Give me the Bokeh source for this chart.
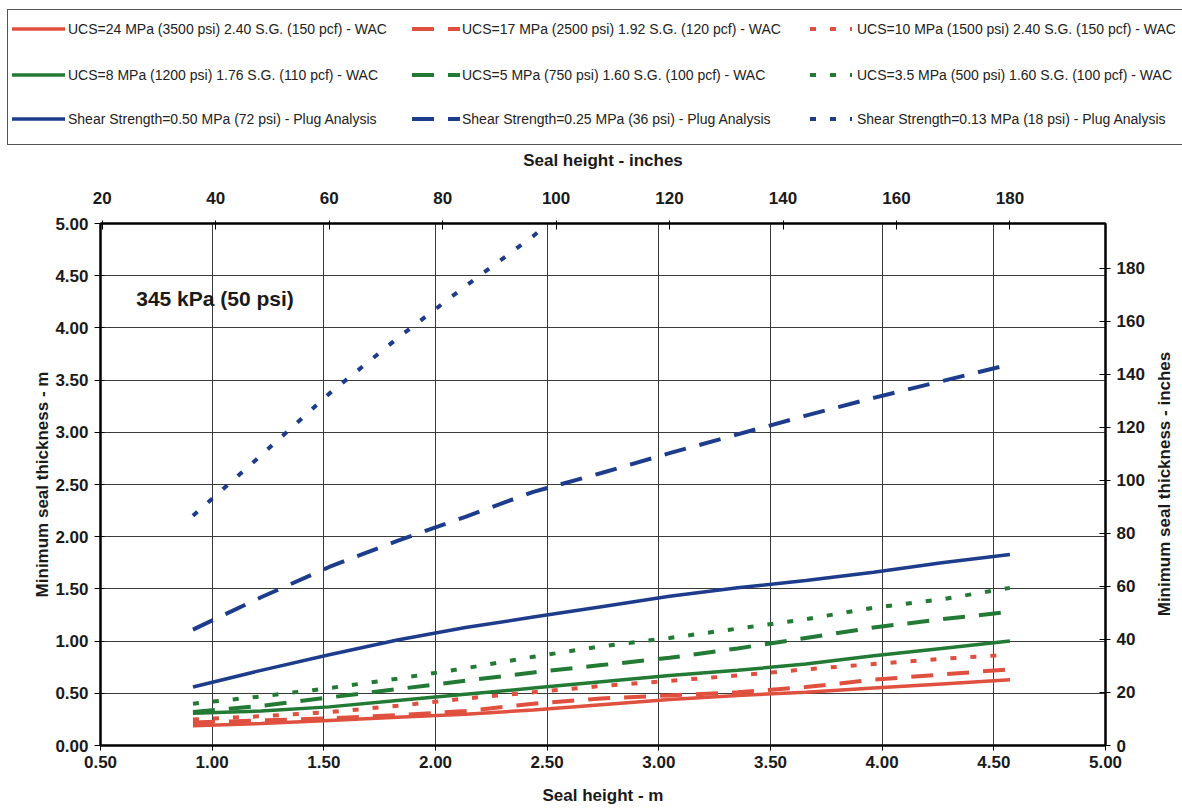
from bokeh.plotting import figure
from bokeh.layouts import column, row
from bokeh.models import (Range1d, LinearAxis, FixedTicker, Label, Div,
                          NumeralTickFormatter)
from bokeh.embed import file_html
from bokeh.resources import INLINE

# ---------------- data ----------------
seal_height_m = [0.914, 1.219, 1.524, 1.829, 2.134, 2.438, 2.743,
                 3.048, 3.353, 3.658, 3.962, 4.267, 4.572]

ucs24 = [0.19, 0.21, 0.24, 0.27, 0.30, 0.34, 0.39, 0.44, 0.48, 0.51, 0.55, 0.59, 0.63]
ucs17 = [0.22, 0.24, 0.26, 0.29, 0.33, 0.40, 0.45, 0.48, 0.51, 0.56, 0.63, 0.68, 0.73]
ucs10 = [0.25, 0.28, 0.32, 0.38, 0.45, 0.51, 0.57, 0.62, 0.67, 0.73, 0.78, 0.83, 0.87]
ucs8 = [0.31, 0.33, 0.37, 0.43, 0.49, 0.55, 0.61, 0.67, 0.72, 0.78, 0.86, 0.93, 1.00]
ucs5 = [0.32, 0.38, 0.46, 0.54, 0.62, 0.70, 0.77, 0.84, 0.93, 1.03, 1.13, 1.21, 1.28]
ucs35 = [0.40, 0.47, 0.55, 0.64, 0.74, 0.85, 0.95, 1.03, 1.12, 1.21, 1.32, 1.40, 1.51]
shear050 = [0.56, 0.72, 0.87, 1.01, 1.13, 1.23, 1.33, 1.43, 1.51, 1.58, 1.66, 1.75, 1.83]
shear025 = [1.11, 1.42, 1.71, 1.96, 2.19, 2.43, 2.61, 2.80, 2.98, 3.16, 3.33, 3.49, 3.65]
shear013_x = [0.914, 1.219, 1.524, 1.829, 2.134, 2.438, 2.50]
shear013 = [2.20, 2.78, 3.37, 3.90, 4.40, 4.88, 4.99]

labels = [
    "UCS=24 MPa (3500 psi) 2.40 S.G. (150 pcf) - WAC",
    "UCS=17 MPa (2500 psi) 1.92 S.G. (120 pcf) - WAC",
    "UCS=10 MPa (1500 psi) 2.40 S.G. (150 pcf) - WAC",
    "UCS=8 MPa (1200 psi) 1.76 S.G. (110 pcf) - WAC",
    "UCS=5 MPa (750 psi) 1.60 S.G. (100 pcf) - WAC",
    "UCS=3.5 MPa (500 psi) 1.60 S.G. (100 pcf) - WAC",
    "Shear Strength=0.50 MPa (72 psi) - Plug Analysis",
    "Shear Strength=0.25 MPa (36 psi) - Plug Analysis",
    "Shear Strength=0.13 MPa (18 psi) - Plug Analysis",
]

m_ticks = [0.5, 1.0, 1.5, 2.0, 2.5, 3.0, 3.5, 4.0, 4.5, 5.0]
y_ticks = [0.0, 0.5, 1.0, 1.5, 2.0, 2.5, 3.0, 3.5, 4.0, 4.5, 5.0]
in_ticks = [0, 20, 40, 60, 80, 100, 120, 140, 160, 180]
M_TO_IN = 39.37

# ---------------- styles ----------------
RED = "#e0503f"
GREEN = "#237a35"
BLUE = "#1e3c8c"
SOLID = "solid"
DASH = "22 14"
DOT = "6 14"
FONT = "Liberation Sans"

styles = [
    (RED, SOLID, 3.5), (RED, DASH, 4), (RED, DOT, 4),
    (GREEN, SOLID, 3.5), (GREEN, DASH, 4), (GREEN, DOT, 4),
    (BLUE, SOLID, 3.5), (BLUE, DASH, 4), (BLUE, DOT, 4),
]
data = [
    (seal_height_m, ucs24), (seal_height_m, ucs17), (seal_height_m, ucs10),
    (seal_height_m, ucs8), (seal_height_m, ucs5), (seal_height_m, ucs35),
    (seal_height_m, shear050), (seal_height_m, shear025), (shear013_x, shear013),
]

LEG_H = 147
RT_W = 30
MAIN_H = 808 - LEG_H
MB_TOP, MB_BOTTOM = 76, 63

# ---------------- main chart ----------------
p = figure(width=1182 - RT_W, height=MAIN_H, output_backend="svg", toolbar_location=None,
           x_range=Range1d(0.5, 5.0), y_range=Range1d(0.0, 5.0),
           min_border_left=100, min_border_right=77 - RT_W, min_border_top=MB_TOP,
           min_border_bottom=MB_BOTTOM)
p.background_fill_color = "white"
p.border_fill_color = "white"
p.outline_line_color = "black"
p.outline_line_width = 2

p.extra_x_ranges = {"in": Range1d(0.5 * M_TO_IN, 5.0 * M_TO_IN)}
p.extra_y_ranges = {"in": Range1d(0.0, 5.0 * M_TO_IN)}

for (xs, ys), (col, dash, w) in zip(data, styles):
    p.line(xs, ys, line_color=col, line_dash=dash, line_width=w)

p.xgrid.ticker = FixedTicker(ticks=m_ticks)
p.ygrid.ticker = FixedTicker(ticks=y_ticks)
for g in (p.xgrid, p.ygrid):
    g.grid_line_color = "#3a3a3a"
    g.grid_line_width = 1


def style_axis(ax, title, ticks, fmt, tin, tout, lst, tst):
    ax.axis_label = title
    ax.ticker = FixedTicker(ticks=ticks)
    if fmt:
        ax.formatter = NumeralTickFormatter(format=fmt)
    ax.axis_label_text_font = FONT
    ax.axis_label_text_font_style = "bold"
    ax.axis_label_text_font_size = "17px"
    ax.axis_label_text_color = "#1a1a1a"
    ax.major_label_text_font = FONT
    ax.major_label_text_font_style = "bold"
    ax.major_label_text_font_size = "17px"
    ax.major_label_text_color = "#1a1a1a"
    ax.axis_line_color = "black"
    ax.axis_line_width = 2
    ax.major_tick_line_color = "black"
    ax.major_tick_line_width = 1
    ax.major_tick_in = tin
    ax.major_tick_out = tout
    ax.minor_tick_line_color = None
    ax.major_label_standoff = lst
    ax.axis_label_standoff = tst


style_axis(p.xaxis[0], "Seal height - m", m_ticks, "0.00", 0, 5, 5, 15)
style_axis(p.yaxis[0], "Minimum seal thickness - m", y_ticks, "0.00", 4, 6, 6, 0)

top_ax = LinearAxis(x_range_name="in")
style_axis(top_ax, "Seal height - inches", in_ticks[1:], None, 6, 3, 17, 19)
p.add_layout(top_ax, "above")

right_ax = LinearAxis(y_range_name="in")
style_axis(right_ax, None, in_ticks, None, 6, 5, 6, 0)
p.add_layout(right_ax, "right")

p.add_layout(Label(x=0.66, y=4.28, text="345 kPa (50 psi)", text_font=FONT,
                   text_font_style="bold", text_font_size="21px",
                   text_color="#1a1a1a", text_baseline="middle"))

# ---------------- right axis title (reads bottom-to-top) ----------------
frame_mid = (MB_TOP + (MAIN_H - MB_BOTTOM)) / 2
right_title = Div(
    text=(f'<div style="position:relative;width:{RT_W}px;height:{MAIN_H}px;background:white;">'
          f'<div style="position:absolute;left:13px;top:{frame_mid}px;'
          f'transform:translate(-50%,-50%) rotate(-90deg);white-space:nowrap;'
          f'font-family:\'{FONT}\',Arial,sans-serif;font-weight:bold;font-size:17px;'
          f'color:#1a1a1a;">Minimum seal thickness - inches</div></div>'),
    width=RT_W, height=MAIN_H, margin=(0, 0, 0, 0))

# ---------------- legend strip (HTML) ----------------
col_glyph_x = [12, 412, 810]
col_glyph_w = [53, 48, 42]
col_text_x = [68, 462, 857]
row_y = [29, 75, 119]

parts = [
    f'<div style="position:relative;width:1182px;height:{LEG_H}px;overflow:hidden;'
    f'background:white;font-family:\'{FONT}\',Arial,sans-serif;font-size:14px;color:#222;">',
    '<div style="position:absolute;left:7px;top:9px;width:1190px;height:136px;'
    'border:1.5px solid #555;box-sizing:border-box;"></div>',
]
for i, (lab, (col, dash, w)) in enumerate(zip(labels, styles)):
    r, c = divmod(i, 3)
    gx, gw, tx, ry = col_glyph_x[c], col_glyph_w[c], col_text_x[c], row_y[r]
    da = "" if dash == SOLID else f' stroke-dasharray="{dash}"'
    parts.append(
        f'<svg style="position:absolute;left:{gx}px;top:{ry - 5}px" width="{gw}" height="10">'
        f'<line x1="0" y1="5" x2="{gw}" y2="5" stroke="{col}" stroke-width="{w}"{da}/></svg>')
    parts.append(
        f'<div style="position:absolute;left:{tx}px;top:{ry - 9}px;line-height:18px;'
        f'white-space:nowrap;">{lab}</div>')
parts.append('</div>')

legend_div = Div(text="".join(parts), width=1182, height=LEG_H, margin=(0, 0, 0, 0))

layout = column(legend_div, row(p, right_title, spacing=0), spacing=0)
open("out.html", "w").write(file_html(layout, INLINE))
